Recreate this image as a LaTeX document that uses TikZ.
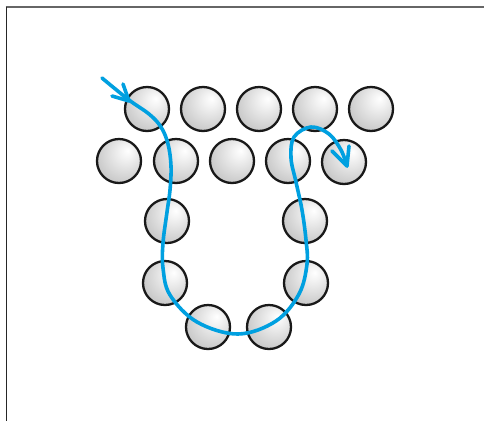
\documentclass[tikz,border=0pt]{standalone}
\usetikzlibrary{calc}
\definecolor{thread}{RGB}{0,160,224}
\pgfdeclareradialshading{beadshade}{\pgfpoint{10bp}{12bp}}{%
  color(0bp)=(white);
  color(8bp)=(white!95!black);
  color(30bp)=(white!80!black);
  color(55bp)=(white!68!black);
  color(70bp)=(white!66!black)}
\tikzset{
  bead/.style={circle, minimum size=44pt, inner sep=0pt, draw=black!90, line width=2.3pt, shading=beadshade},
  threadline/.style={draw=thread, line width=3.6pt, line cap=round, line join=round},
  framelineA/.style={draw=black!60, line width=2pt},
  framelineB/.style={draw=black!85, line width=1.6pt}
}
\begin{document}
\begin{tikzpicture}[x=1pt,y=-1pt]
\useasboundingbox (0,0) rectangle (484,421);
\fill[white] (0,0) rectangle (484,421);
% frame
\coordinate (fc) at (6.5,6.5);
\coordinate (fr) at (484,6.5);
\coordinate (fb) at (6.5,421);
\draw[framelineA] (5.7,6.5) -- (fr);
\draw[framelineB] (fc) -- (fb);
% beads
\foreach \n/\x/\y in {a1/147/109, a2/203/109, a3/259/109, a4/315/109, a5/371/109,
                      b1/119/161, b2/176/161, b3/232/161, b4/288/161, b5/344/162,
                      l1/167/221, l2/165/283, r1/305/221, r2/306/283,
                      c1/208/327, c2/269/327}
  \node[bead] (\n) at (\x,\y) {};
% thread
\coordinate (s) at (102,78);
\coordinate (e) at (347,166);
\draw[threadline] plot[smooth, tension=0.6] coordinates {
  (s) (129,100) (149,114) (161,127) (168,144) (171,166) (170,190) (167,212)
  (163,243) (163,268) (170,295) (197,322) (238,334) (276,321)
  (299,294) (307,264) (306,240) (302,210) (296,182) (291,158)
  (294,137) (311,127) (329,134) (341,150) (e)};
% arrowheads
\coordinate (t1) at (129,101);
\draw[threadline] (123,84) -- (t1) -- (112,96);
\draw[threadline] (332,151) -- (e) -- (349,146);
\end{tikzpicture}
\end{document}
